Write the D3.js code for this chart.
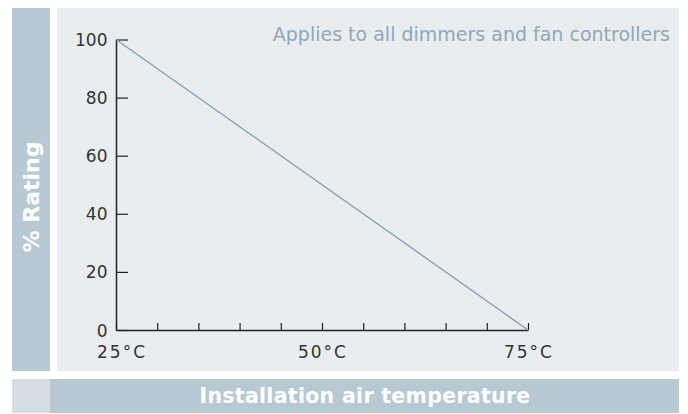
<!DOCTYPE html>
<html>
<head>
<meta charset="utf-8">
<script src="https://cdn.jsdelivr.net/npm/d3@7"></script>
<style>
  body { margin: 0; background: #fff; }
  svg { display: block; font-family: "DejaVu Sans", sans-serif; }
</style>
</head>
<body>
<div id="chart"></div>
<script>
// data
const temps = [25, 75];            // installation air temperature, °C
const rating = [100, 0];           // % rating
const xTickValues = [25, 30, 35, 40, 45, 50, 55, 60, 65, 70, 75];
const xTickLabels = [25, 50, 75];
const yTickValues = [0, 20, 40, 60, 80, 100];

const W = 688, H = 414;
const svg = d3.select("#chart").append("svg")
    .attr("width", W)
    .attr("height", H);

// background panels
svg.append("rect").attr("x", 12).attr("y", 8).attr("width", 38).attr("height", 363).attr("fill", "#b8c9d3");
svg.append("rect").attr("x", 57).attr("y", 8).attr("width", 622).attr("height", 363).attr("fill", "#e9edf0");
svg.append("rect").attr("x", 12).attr("y", 379).attr("width", 38).attr("height", 34).attr("fill", "#d6dee4");
svg.append("rect").attr("x", 50).attr("y", 379).attr("width", 629).attr("height", 34).attr("fill", "#b8c9d3");

const x = d3.scaleLinear().domain([25, 75]).range([116, 528]);
const y = d3.scaleLinear().domain([0, 100]).range([330, 39.5]);

// x axis: ticks every 5 degrees, pointing up
const xAxis = svg.append("g")
    .attr("transform", `translate(0,${y(0)})`)
    .call(d3.axisBottom(x).tickValues(xTickValues).tickSizeInner(-7).tickSizeOuter(0).tickFormat(""));
xAxis.select(".domain").attr("stroke", "#222").attr("stroke-width", 1.5);
xAxis.selectAll(".tick line").attr("stroke", "#222").attr("stroke-width", 1.2);

// y axis: ticks pointing right
const yAxis = svg.append("g")
    .attr("transform", `translate(${x(25)},0)`)
    .call(d3.axisRight(y).tickValues(yTickValues).tickSizeInner(12).tickSizeOuter(0).tickFormat(""));
yAxis.select(".domain").attr("stroke", "#222").attr("stroke-width", 1.5);
yAxis.selectAll(".tick line").attr("stroke", "#222").attr("stroke-width", 1.2);

// y tick labels
svg.append("g").selectAll("text")
    .data(yTickValues)
    .enter()
    .append("text")
    .attr("x", x(25) - 8.5)
    .attr("y", d => d === 0 ? y(d) + 1 : y(d))
    .attr("dy", "0.36em")
    .attr("text-anchor", "end")
    .attr("font-size", 17)
    .attr("fill", "#333")
    .text(d => d);

// x tick labels
svg.append("g").selectAll("text")
    .data(xTickLabels)
    .enter()
    .append("text")
    .attr("x", d => d === 25 ? x(d) - 19 : x(d) + 1)
    .attr("y", y(0) + 28)
    .attr("text-anchor", d => d === 25 ? "start" : "middle")
    .attr("font-size", 17)
    .attr("letter-spacing", 2)
    .attr("fill", "#333")
    .text(d => d + "°C");

// derating line
const line = d3.line().x(d => x(d[0])).y(d => y(d[1]));
svg.append("path")
    .datum(temps.map((t, i) => [t, rating[i]]))
    .attr("d", line)
    .attr("fill", "none")
    .attr("stroke", "#7f9db4")
    .attr("stroke-width", 1.3);

// note
svg.append("text")
    .attr("x", 670)
    .attr("y", 41)
    .attr("text-anchor", "end")
    .attr("font-size", 19)
    .attr("fill", "#8fa8ba")
    .text("Applies to all dimmers and fan controllers");

// axis titles
svg.append("text")
    .attr("transform", `translate(39,197) rotate(-90)`)
    .attr("text-anchor", "middle")
    .attr("font-size", 22)
    .attr("font-weight", "bold")
    .attr("fill", "#fff")
    .text("% Rating");

svg.append("text")
    .attr("x", 365)
    .attr("y", 403)
    .attr("text-anchor", "middle")
    .attr("font-size", 20.5)
    .attr("font-weight", "bold")
    .attr("letter-spacing", 0.3)
    .attr("fill", "#fff")
    .text("Installation air temperature");
</script>
</body>
</html>
